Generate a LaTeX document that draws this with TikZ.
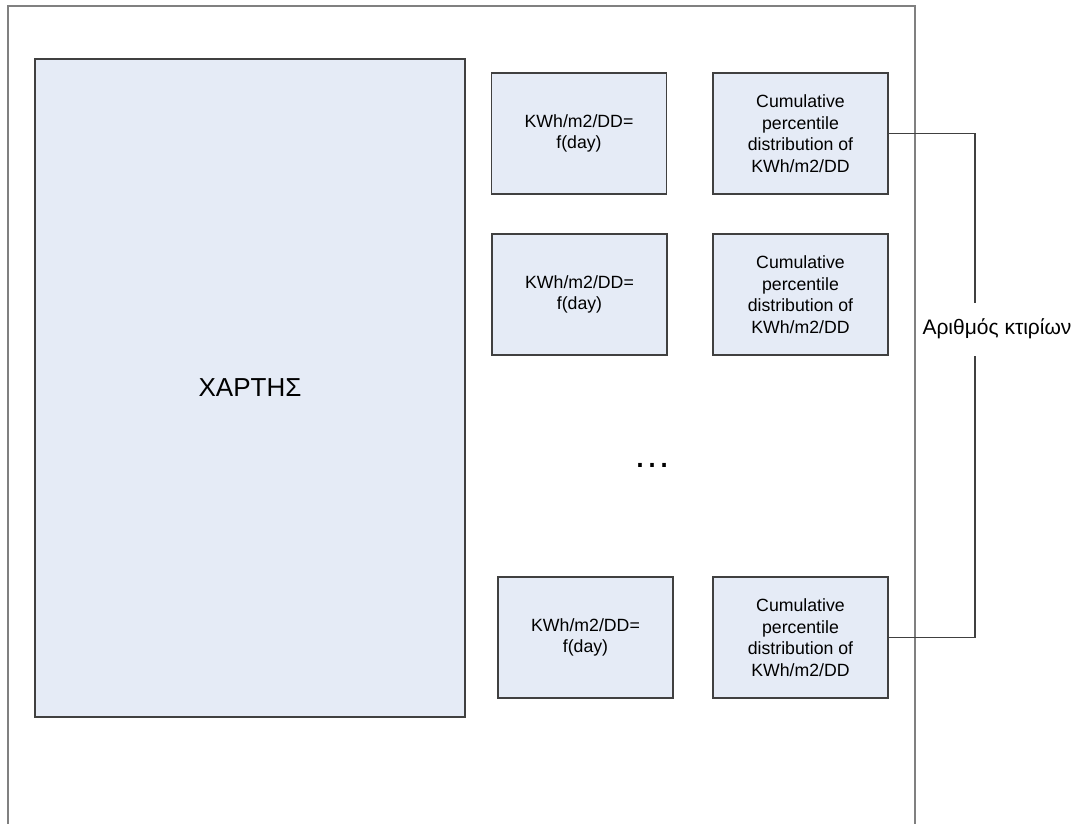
\documentclass[tikz,border=0pt]{standalone}
\usepackage{fontspec}
\setmainfont{Liberation Sans}
\begin{document}
\begin{tikzpicture}[x=1pt,y=-1pt,
  box/.style={draw=black!75,line width=1.3pt,fill=boxfill,inner sep=0pt,align=center,
    font=\fontsize{17.7}{21.6}\selectfont},
  smallbox/.style={box,minimum width=175pt,minimum height=121pt},
  frame/.style={draw=black!50,line width=2pt},
  conn/.style={draw=black!75,line width=1.3pt}]
\definecolor{boxfill}{HTML}{E5EBF6}
\useasboundingbox (0,0) rectangle (1078,823);
% outer frame (open at bottom)
\draw[frame] (8,830) -- (8,6) -- (915,6) -- (915,830);
% map
\node[box,minimum width=430pt,minimum height=658pt,font=\fontsize{26}{30}\selectfont] (map) at (250,388) {ΧΑΡΤΗΣ};
% row 1
\node[smallbox] (f1) at (579,133.5) {KWh/m2/DD=\\f(day)};
\node[smallbox] (c1) at (800.5,133.5) {Cumulative\\percentile\\distribution of\\KWh/m2/DD};
% row 2
\node[smallbox] (f2) at (579.5,294.5) {KWh/m2/DD=\\f(day)};
\node[smallbox] (c2) at (800.5,294.5) {Cumulative\\percentile\\distribution of\\KWh/m2/DD};
% row 3
\node[smallbox] (f3) at (585.5,637.5) {KWh/m2/DD=\\f(day)};
\node[smallbox] (c3) at (800.5,637.5) {Cumulative\\percentile\\distribution of\\KWh/m2/DD};
% ellipsis
\node[font=\fontsize{38}{40}\selectfont,inner sep=0pt] (dots) at (652,465) {…};
% connector
\coordinate (ct) at (975,133.5);
\coordinate (cb) at (975,637.5);
\draw[conn] (c1.east) -- (ct) -- (cb) -- (c3.east);
\node[fill=white,inner xsep=2pt,minimum height=53pt,font=\fontsize{21}{24}\selectfont] (lbl) at (997,329) {Αριθμός κτιρίων};
\end{tikzpicture}
\end{document}
